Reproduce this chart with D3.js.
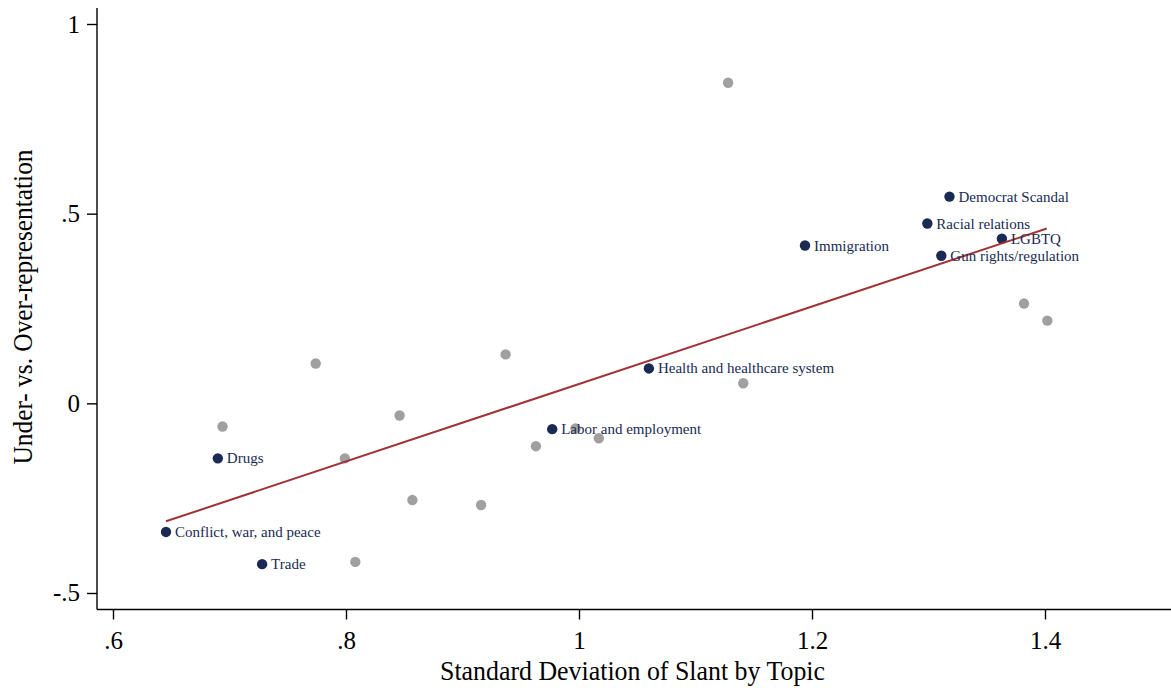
<!DOCTYPE html>
<html>
<head>
<meta charset="utf-8">
<script src="https://cdn.jsdelivr.net/npm/d3@7"></script>
<style>
    body { margin: 0; background: #fff; }
    text { font-family: "Liberation Serif", "Times New Roman", serif; }
</style>
</head>
<body>
<svg id="SVG_CONTAINER" width="1171" height="690"></svg>
<script>
// labelled topics (navy)
const topicNames = ["Democrat Scandal", "Racial relations", "Immigration", "LGBTQ", "Gun rights/regulation",
    "Health and healthcare system", "Labor and employment", "Drugs", "Conflict, war, and peace", "Trade"];
const topicX = [1.318, 1.299, 1.194, 1.363, 1.311, 1.060, 0.977, 0.690, 0.6455, 0.728];
const topicY = [0.545, 0.474, 0.416, 0.434, 0.389, 0.092, -0.068, -0.145, -0.339, -0.424];

// other topics (grey, unlabelled)
const otherX = [1.128, 1.382, 1.402, 0.774, 0.937, 0.694, 0.846, 0.799, 1.141, 0.963, 0.997, 1.017, 0.857, 0.916, 0.808];
const otherY = [0.845, 0.263, 0.218, 0.105, 0.129, -0.061, -0.032, -0.145, 0.053, -0.113, -0.066, -0.092, -0.255, -0.268, -0.418];

// fitted line end points
const fitX = [0.6455, 1.4015];
const fitY = [-0.311, 0.461];

const xTicks = [0.6, 0.8, 1, 1.2, 1.4];
const yTicks = [-0.5, 0, 0.5, 1];

const width = 1171, height = 690;
const MARGIN = { LEFT: 97, RIGHT: 0, TOP: 8, BOTTOM: 80.5 };

// Stata style: ".5", "-.5"
const fmt = d => String(d).replace(/^(-?)0\./, "$1.");

let svg = d3.select("#SVG_CONTAINER");

let xScale = d3.scaleLinear()
    .domain([0.6 - 16 / 1165, 0.6 + (width - 113) / 1165])
    .range([MARGIN.LEFT, width]);

let yScale = d3.scaleLinear()
    .domain([-0.5 - 16.5 / 379.3, 1 + 16 / 379.3])
    .range([height - MARGIN.BOTTOM, MARGIN.TOP]);

//** AXES *****************************************
let xAxis = d3.axisBottom(xScale).tickValues(xTicks).tickFormat(fmt).tickSize(10).tickPadding(12);
let gx = svg.append("g")
    .attr("transform", "translate(0," + (height - MARGIN.BOTTOM) + ")")
    .call(xAxis);
gx.select(".domain").attr("d", "M" + MARGIN.LEFT + ",0H" + width);

let yAxis = d3.axisLeft(yScale).tickValues(yTicks).tickFormat(fmt).tickSize(10).tickPadding(7);
let gy = svg.append("g")
    .attr("transform", "translate(" + MARGIN.LEFT + ",0)")
    .call(yAxis);
gy.select(".domain").attr("d", "M0," + MARGIN.TOP + "V" + (height - MARGIN.BOTTOM));

svg.selectAll(".tick text")
    .style("font-family", "'Liberation Serif', serif")
    .style("font-size", "25px")
    .attr("fill", "#000");
svg.selectAll(".domain, .tick line").attr("stroke", "#000").attr("stroke-width", 1.4);

svg.append("text")
    .attr("x", 440)
    .attr("y", 680)
    .attr("textLength", 385)
    .attr("lengthAdjust", "spacingAndGlyphs")
    .style("font-size", "28px")
    .text("Standard Deviation of Slant by Topic");

svg.append("text")
    .attr("transform", "translate(32," + 307 + ") rotate(-90)")
    .attr("text-anchor", "middle")
    .attr("textLength", 315)
    .attr("lengthAdjust", "spacingAndGlyphs")
    .style("font-size", "28px")
    .text("Under- vs. Over-representation");

//** POINTS *****************************************
svg.append("g").selectAll("circle")
    .data(otherX.map((x, i) => [x, otherY[i]]))
    .enter().append("circle")
    .attr("cx", d => xScale(d[0]))
    .attr("cy", d => yScale(d[1]))
    .attr("r", 5.2)
    .attr("fill", "#a0a0a0");

let topics = topicNames.map((n, i) => ({ name: n, x: topicX[i], y: topicY[i] }));

svg.append("g").selectAll("circle")
    .data(topics)
    .enter().append("circle")
    .attr("cx", d => xScale(d.x))
    .attr("cy", d => yScale(d.y))
    .attr("r", 5.2)
    .attr("fill", "#1a2a52");

// fitted line
svg.append("path")
    .datum(fitX.map((x, i) => [x, fitY[i]]))
    .attr("d", d3.line().x(d => xScale(d[0])).y(d => yScale(d[1])))
    .attr("stroke", "#a03336")
    .attr("stroke-width", 2)
    .attr("fill", "none");

svg.append("g").selectAll("text")
    .data(topics)
    .enter().append("text")
    .attr("x", d => xScale(d.x) + 9)
    .attr("y", d => yScale(d.y) + 5)
    .style("font-size", "15px")
    .attr("fill", "#1a2a52")
    .text(d => d.name);
</script>
</body>
</html>
